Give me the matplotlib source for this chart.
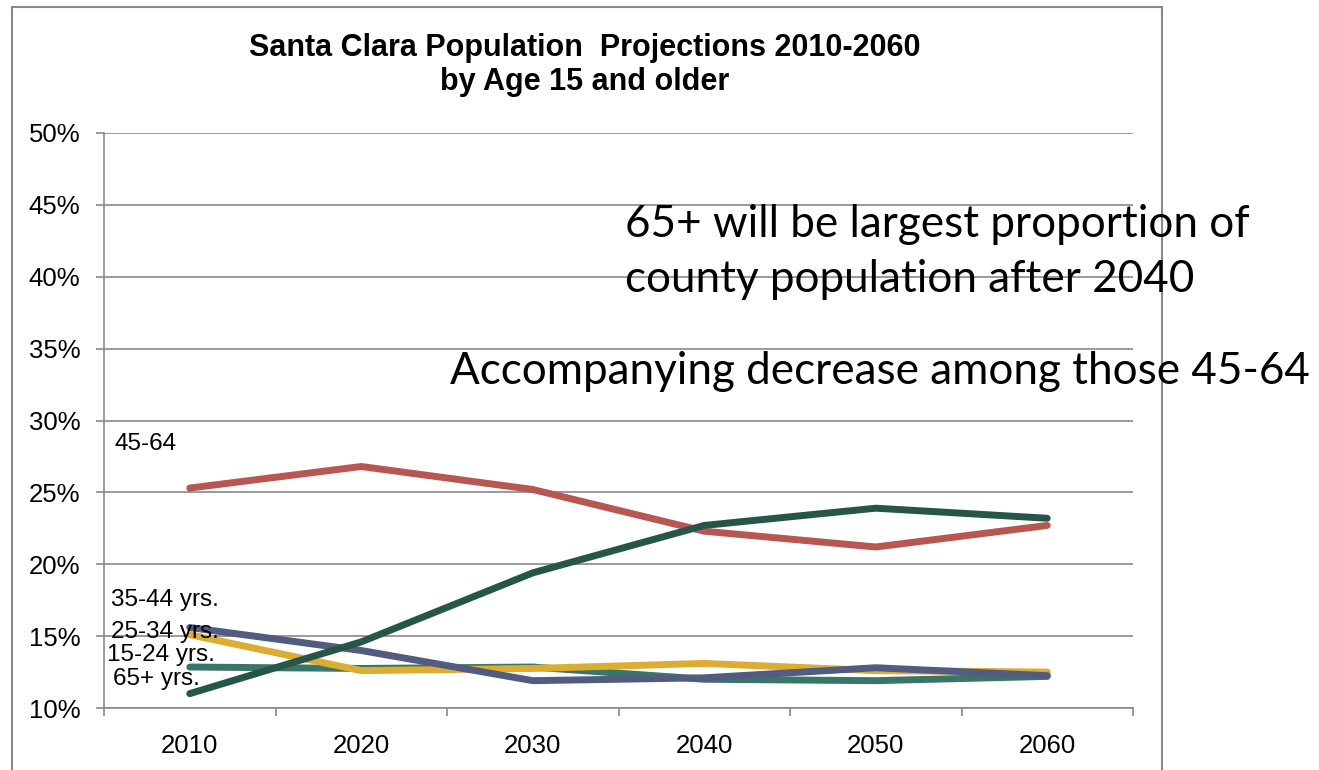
import matplotlib
matplotlib.use("Agg")
import matplotlib.pyplot as plt
from matplotlib.patches import Rectangle
from matplotlib.ticker import FixedLocator, FuncFormatter

years = ["2010", "2020", "2030", "2040", "2050", "2060"]
age_15_24 = [12.85, 12.75, 12.85, 12.0, 11.9, 12.2]
age_25_34 = [15.1, 12.6, 12.75, 13.1, 12.6, 12.5]
age_35_44 = [15.6, 14.0, 11.9, 12.1, 12.8, 12.25]
age_45_64 = [25.3, 26.8, 25.2, 22.3, 21.2, 22.7]
age_65_plus = [11.0, 14.6, 19.4, 22.7, 23.9, 23.2]

series = [
    (age_15_24, "#3a7667"),
    (age_25_34, "#ddad32"),
    (age_35_44, "#525b80"),
    (age_45_64, "#b85652"),
    (age_65_plus, "#275649"),
]

# text labels placed next to the lines (x in category units, y in %)
labels = [
    ("45-64", -0.44, 28.4),
    ("35-44 yrs.", -0.46, 17.5),
    ("25-34 yrs.", -0.46, 15.3),
    ("15-24 yrs.", -0.48, 13.7),
    ("65+ yrs.", -0.45, 12.0),
]

W, H = 1319, 770
fig = plt.figure(figsize=(W / 100, H / 100), dpi=100)
ax = fig.add_axes([104 / W, 1 - 708 / H, (1133 - 104) / W, (708 - 133) / H])

x = list(range(len(years)))
for vals, col in series:
    ax.plot(x, vals, color=col, lw=5, solid_capstyle="round",
            solid_joinstyle="round")

grid_col = "#898989"
ax.set_xlim(-0.5, len(years) - 0.5)
ax.set_ylim(10, 50)
ax.yaxis.set_major_locator(FixedLocator(range(10, 51, 5)))
ax.yaxis.set_major_formatter(FuncFormatter(lambda v, p: f"{v:.0f}%"))
ax.grid(axis="y", color=grid_col, lw=1.2)
ax.set_axisbelow(True)
ax.set_xticks(x)
ax.set_xticklabels(years)
ax.set_xticks([i - 0.5 for i in range(len(years) + 1)], minor=True)
ax.tick_params(axis="x", which="major", length=0, pad=18.5, labelsize=18.5)
ax.tick_params(axis="x", which="minor", length=6, color=grid_col, width=1.2)
ax.tick_params(axis="y", length=6, color=grid_col, width=1.2, labelsize=18.5, pad=11)
for s in ["top", "right"]:
    ax.spines[s].set_visible(False)
for s in ["left", "bottom"]:
    ax.spines[s].set_color(grid_col)
    ax.spines[s].set_linewidth(1.2)
for lab in ax.get_xticklabels() + ax.get_yticklabels():
    lab.set_family("Liberation Sans")

for txt, lx, ly in labels:
    ax.text(lx, ly, txt, fontsize=17.5, family="Liberation Sans",
            ha="left", va="center")

# outer chart frame
fig.patches.append(Rectangle((12 / W, -0.05), (1162 - 12) / W, 1.05 - 7 / H,
                             transform=fig.transFigure, fill=False,
                             edgecolor=grid_col, lw=1.5))

fig.text(585 / W, 1 - 65 / H, "Santa Clara Population  Projections 2010-2060\nby Age 15 and older",
         ha="center", va="center", fontsize=22, fontweight="bold",
         family="Liberation Sans", linespacing=1.2)

fig.text(625 / W, 1 - 252 / H, "65+ will be largest proportion of\ncounty population after 2040",
         ha="left", va="center", fontsize=31.7, family="Lato", linespacing=1.4)
fig.text(450 / W, 1 - 372 / H, "Accompanying decrease among those 45-64",
         ha="left", va="center", fontsize=31.7, family="Lato")

fig.savefig("out.png", dpi=100)
